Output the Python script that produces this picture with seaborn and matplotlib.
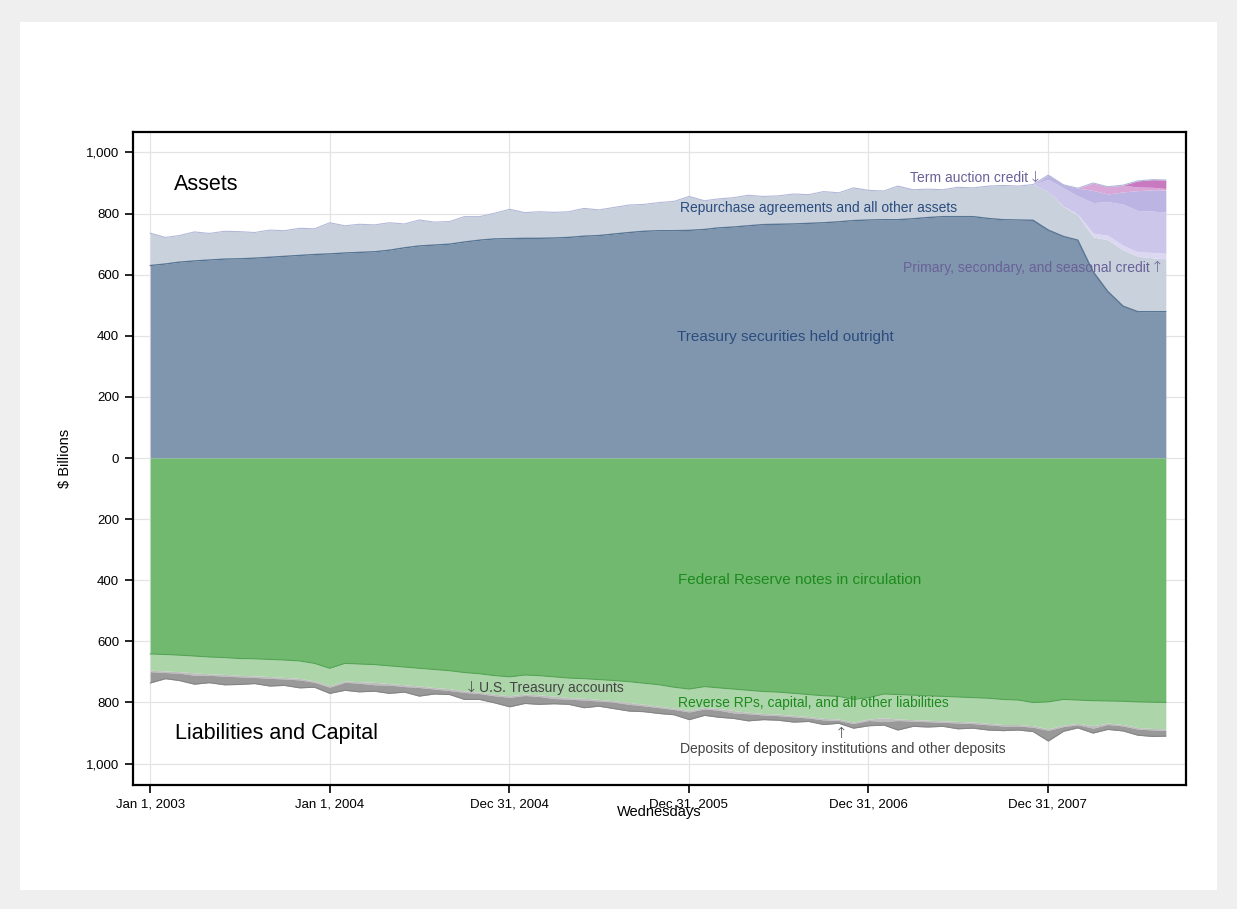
import numpy as np
import pandas as pd
import seaborn as sns
import matplotlib.pyplot as plt
from matplotlib.patches import Rectangle
from matplotlib.ticker import FuncFormatter

sns.set_theme(style="whitegrid")
plt.rcParams["font.family"] = ["Liberation Sans", "DejaVu Sans"]

# monthly readings, Jan 2003 .. Aug 2008, plus the last Wednesday shown
dates = list(pd.date_range("2003-01-01", "2008-08-01", freq="MS")) + [pd.Timestamp("2008-08-27")]

# Assets ($ billions)
treasury = [630, 635, 641, 645, 648, 651, 652, 654, 657, 660, 663, 666,
            668, 671, 673, 675, 680, 688, 694, 697, 700, 707, 713, 717,
            718, 719, 719, 720, 722, 726, 728, 733, 738, 742, 744, 744,
            745, 748, 753, 756, 760, 764, 765, 766, 768, 770, 773, 777,
            779, 780, 780, 783, 787, 790, 790, 790, 784, 780, 779, 778,
            746, 725, 713, 610, 545, 497, 479, 479, 479]
repo_other = [106, 87, 87, 95, 87, 91, 89, 84, 89, 84, 89, 84,
              102, 89, 92, 88, 90, 78, 85, 75, 74, 83, 77, 84,
              96, 84, 87, 84, 84, 91, 84, 87, 90, 88, 92, 96,
              111, 94, 95, 96, 100, 92, 93, 98, 94, 102, 95, 107,
              97, 94, 110, 95, 93, 88, 96, 94, 106, 112, 111, 117,
              126, 98, 82, 114, 169, 184, 181, 176, 173]
primary_credit = [0] * 60 + [0, 1, 3, 12, 15, 15, 15, 18, 18]
term_auction = [0] * 60 + [40, 60, 60, 100, 110, 135, 135, 135, 135]
other_credit = [0] * 60 + [14, 10, 25, 40, 25, 40, 65, 70, 72]
other_loans = [0] * 60 + [0, 0, 0, 24, 24, 22, 12, 8, 5]
other_facilities = [0] * 60 + [0, 0, 0, 0, 0, 0, 20, 25, 28]

# Liabilities and capital ($ billions)
fr_notes = [641, 643, 645, 648, 651, 653, 656, 657, 659, 661, 664, 672,
            688, 672, 674, 676, 680, 684, 688, 692, 696, 702, 706, 712,
            716, 710, 712, 716, 720, 722, 725, 728, 732, 737, 742, 750,
            756, 748, 752, 756, 760, 764, 766, 770, 774, 778, 780, 790,
            784, 772, 774, 776, 778, 780, 782, 784, 786, 790, 792, 800,
            798, 790, 792, 794, 795, 796, 798, 799, 800]
reverse_rps = [53, 54, 54, 55, 55, 55, 55, 56, 56, 57, 57, 57,
               57, 57, 58, 58, 58, 58, 58, 59, 59, 60, 60, 61,
               62, 62, 63, 63, 64, 64, 65, 66, 68, 69, 70, 68,
               70, 68, 68, 70, 72, 72, 72, 72, 72, 74, 74, 74,
               70, 78, 80, 80, 80, 80, 80, 80, 82, 82, 80, 76,
               88, 84, 76, 82, 72, 76, 84, 86, 86]
treasury_accts = [5, 5, 5, 8, 5, 6, 5, 5, 6, 5, 5, 5,
                  5, 5, 5, 8, 5, 6, 5, 5, 6, 5, 5, 5,
                  5, 5, 5, 8, 5, 6, 5, 5, 6, 5, 5, 5,
                  5, 5, 5, 8, 5, 5, 5, 5, 5, 5, 5, 5,
                  5, 12, 5, 5, 5, 5, 5, 5, 5, 5, 5, 5,
                  5, 5, 5, 8, 5, 5, 5, 5, 5]
deposits = [37, 20, 24, 29, 24, 28, 25, 20, 25, 21, 26, 16,
            20, 26, 28, 21, 27, 18, 28, 16, 13, 23, 19, 23,
            31, 26, 26, 17, 17, 25, 17, 21, 22, 19, 19, 17,
            25, 21, 23, 18, 23, 15, 15, 17, 11, 15, 9, 15,
            17, 12, 31, 17, 17, 13, 19, 15, 17, 15, 13, 14,
            35, 15, 10, 16, 16, 16, 20, 21, 19]

asset_colors = ["#7f96ae", "#c8d1dc", "#dcd8f1", "#cbc6ea", "#bcb4e2", "#d9a6d8", "#c879c0"]
liab_colors = ["#70b96f", "#acd6aa", "#bdbdbd", "#999999"]

fig = plt.figure(figsize=(12.37, 9.09), dpi=100, facecolor="#efefef")
fig.patches.append(Rectangle((20 / 1237, 1 - 890 / 909), 1197 / 1237, 868 / 909,
                             transform=fig.transFigure, facecolor="white",
                             edgecolor="none", zorder=-1))
ax = fig.add_axes([133 / 1237, 1 - 785 / 909, 1053 / 1237, 653 / 909])
ax.set_facecolor("white")

ax.stackplot(dates, treasury, repo_other, primary_credit, term_auction,
             other_credit, other_loans, other_facilities,
             colors=asset_colors, linewidth=0, zorder=2)
ax.stackplot(dates, -np.array(fr_notes), -np.array(reverse_rps),
             -np.array(treasury_accts), -np.array(deposits),
             colors=liab_colors, linewidth=0, zorder=2)

# boundary lines
t = np.array(treasury)
top = t + np.array(repo_other) + np.array(primary_credit) + np.array(term_auction) \
    + np.array(other_credit) + np.array(other_loans) + np.array(other_facilities)
n = -np.array(fr_notes)
bottom = n - np.array(reverse_rps) - np.array(treasury_accts) - np.array(deposits)
for yv, c, lw in [(t, "#587593", 1.0), (top, "#b3b8d8", 0.8),
                  (n, "#55a455", 0.8), (bottom, "#858585", 0.8)]:
    sns.lineplot(x=dates, y=yv, ax=ax, color=c, linewidth=lw, zorder=3)

ax.set_xlim(pd.Timestamp("2002-11-27"), pd.Timestamp("2008-10-07"))
ax.set_ylim(-1070, 1067)

xt = pd.to_datetime(["2003-01-01", "2004-01-01", "2004-12-31", "2005-12-31", "2006-12-31", "2007-12-31"])
ax.set_xticks(xt)
ax.set_xticklabels(["Jan 1, 2003", "Jan 1, 2004", "Dec 31, 2004",
                    "Dec 31, 2005", "Dec 31, 2006", "Dec 31, 2007"])
ax.set_yticks(range(-1000, 1001, 200))
ax.yaxis.set_major_formatter(FuncFormatter(lambda v, p: f"{abs(v):,.0f}"))

ax.grid(True, color="#e4e4e4", linewidth=0.9)
ax.set_axisbelow(True)
for s in ax.spines.values():
    s.set_color("black")
    s.set_linewidth(1.6)
ax.tick_params(axis="both", direction="out", length=6, width=1.2, color="black",
               labelsize=9.5, labelcolor="black", left=True, bottom=True, pad=4)

ax.set_xlabel("Wednesdays", fontsize=10.5, color="black")
ax.xaxis.set_label_coords(0.5, -0.031)
ax.set_ylabel("$ Billions", fontsize=10.5, color="black")
ax.yaxis.set_label_coords(-0.058, 0.5)


def px(x, y):
    return (x - 133) / 1053, (785 - y) / 653


blue = "#2b4c7e"
purple = "#6a6198"
green = "#1e8a1e"
dark = "#444444"
labels = [
    ("Assets", 174, 184, "left", 15.5, "black"),
    ("Liabilities and Capital", 175, 733, "left", 15.5, "black"),
    ("Repurchase agreements and all other assets", 680, 208, "left", 10, blue),
    ("Treasury securities held outright", 677, 337, "left", 11, blue),
    ("Term auction credit", 1028, 178, "right", 10, purple),
    ("Primary, secondary, and seasonal credit", 1150, 268, "right", 10, purple),
    ("Federal Reserve notes in circulation", 678, 580, "left", 11, green),
    ("Reverse RPs, capital, and all other liabilities", 678, 703, "left", 10, green),
    ("U.S. Treasury accounts", 479, 688, "left", 10, dark),
    ("Deposits of depository institutions and other deposits", 680, 749, "left", 10, dark),
]
for txt, x, y, ha, size, col in labels:
    ax.text(*px(x, y), txt, transform=ax.transAxes, ha=ha, va="center",
            fontsize=size, color=col, zorder=5)

# arrow glyphs drawn separately so they come out tall like the reference
arrows = [("\u2193", 1035, 177, purple), ("\u2191", 1157, 267, purple),
          ("\u2193", 471, 687, dark), ("\u2191", 841, 733, dark)]
for a, x, y, col in arrows:
    ax.text(*px(x, y), a, transform=ax.transAxes, ha="center", va="center",
            fontsize=11, color=col, family="DejaVu Sans", fontweight="light", zorder=5)

fig.savefig("out.png", dpi=100, facecolor=fig.get_facecolor())
